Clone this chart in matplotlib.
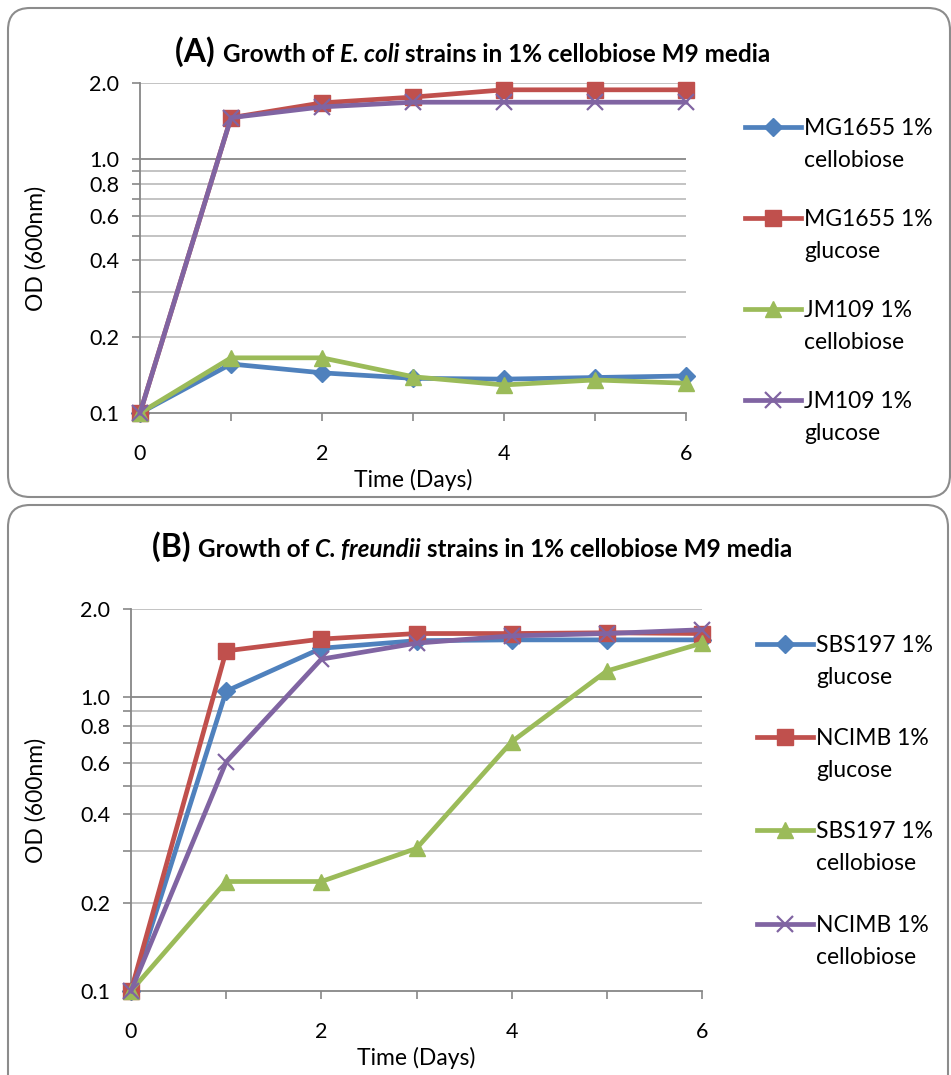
import matplotlib
matplotlib.use('Agg')
import matplotlib.pyplot as plt
from matplotlib.patches import FancyBboxPatch
from matplotlib.transforms import IdentityTransform
from matplotlib.ticker import FixedLocator, NullLocator

plt.rcParams['font.family'] = ['Lato', 'DejaVu Sans']

days = [0, 1, 2, 3, 4, 5, 6]

# panel A - E. coli
mg1655_cello = [0.100, 0.156, 0.144, 0.137, 0.136, 0.138, 0.140]
mg1655_gluc = [0.100, 1.46, 1.67, 1.76, 1.88, 1.88, 1.88]
jm109_cello = [0.100, 0.165, 0.165, 0.139, 0.129, 0.135, 0.131]
jm109_gluc = [0.100, 1.46, 1.61, 1.68, 1.68, 1.68, 1.68]
labels_a = [("MG1655 1%", "cellobiose"), ("MG1655 1%", "glucose"),
            ("JM109 1%", "cellobiose"), ("JM109 1%", "glucose")]

# panel B - C. freundii
sbs197_gluc = [0.100, 1.05, 1.47, 1.56, 1.57, 1.57, 1.57]
ncimb_gluc = [0.100, 1.44, 1.58, 1.65, 1.65, 1.66, 1.65]
sbs197_cello = [0.100, 0.236, 0.236, 0.306, 0.706, 1.23, 1.53]
ncimb_cello = [0.100, 0.603, 1.35, 1.53, 1.62, 1.65, 1.70]
labels_b = [("SBS197 1%", "glucose"), ("NCIMB 1%", "glucose"),
            ("SBS197 1%", "cellobiose"), ("NCIMB 1%", "cellobiose")]

grid_vals = [0.1, 0.2, 0.3, 0.4, 0.5, 0.6, 0.7, 0.8, 0.9, 1.0, 2.0]
labelled = [0.1, 0.2, 0.4, 0.6, 0.8, 1.0, 2.0]

colors = ['#4F81BD', '#C0504D', '#9BBB59', '#8064A2']
styles = [dict(marker='D', ms=9), dict(marker='s', ms=11),
          dict(marker='^', ms=12), dict(marker='x', ms=11, mew=1.6)]

W, H = 951, 1075
fig = plt.figure(figsize=(W / 100, H / 100), dpi=100)

# rounded panel frames (pixel coords)
for (x0, y0, w, h) in [(8, H - 497, 942, 489), (8, -30, 940, H - 505 + 30)]:
    fig.patches.append(FancyBboxPatch((x0, y0), w, h, boxstyle='round,pad=0,rounding_size=22',
                                      transform=IdentityTransform(), fc='none',
                                      ec='#8C8C8C', lw=1.5))


def px(x0, y0, x1, y1):
    return [x0 / W, 1 - y1 / H, (x1 - x0) / W, (y1 - y0) / H]


def setup(ax, x0, x1):
    ax.set_yscale('log')
    ax.set_ylim(0.1, 2.0)
    ax.set_xlim(0, 6)
    ax.yaxis.set_major_locator(FixedLocator(grid_vals))
    ax.yaxis.set_minor_locator(NullLocator())
    ax.set_yticklabels(['%.1f' % v if v in labelled else '' for v in grid_vals])
    ax.set_xticks(days)
    ax.set_xticklabels([str(d) if d % 2 == 0 else '' for d in days])
    for v in grid_vals[1:]:
        ax.axhline(v, color='#878787' if v == 1.0 else '#BEBEBE', lw=1.3, zorder=0)
    for s in ['top', 'right']:
        ax.spines[s].set_visible(False)
    for s in ['left', 'bottom']:
        ax.spines[s].set_color('#878787')
        ax.spines[s].set_linewidth(1.3)
    ax.tick_params(axis='both', direction='out', length=6, width=1.2, color='#878787',
                   labelsize=15.5)
    ax.tick_params(axis='x', pad=16)
    ax.tick_params(axis='y', pad=9)
    ax.set_xlabel('Time (Days)', fontsize=16.5, labelpad=4)
    ax.set_ylabel('OD (600nm)', fontsize=16.5)
    ax.yaxis.set_label_coords((47 - x0) / (x1 - x0), 0.5)


def legend(ax, lines, labels, x, y, spacing, gap):
    leg = ax.legend(lines, [l[0] for l in labels], loc='upper left',
                    bbox_to_anchor=(x / W, 1 - y / H), bbox_transform=fig.transFigure,
                    frameon=False, fontsize=16.5, handlelength=2.45, handletextpad=0.12,
                    borderpad=0, borderaxespad=0, labelspacing=spacing)
    for t, l in zip(leg.get_texts(), labels):
        ax.annotate(l[1], xy=(0, 0.5), xycoords=t, xytext=(0, -gap),
                    textcoords='offset pixels', va='center', ha='left',
                    fontsize=16.5, zorder=7)


def rich_title(pieces, xc, y):
    r = fig.canvas.get_renderer()
    texts = [fig.text(0, 1 - y / H, s, va='baseline', ha='left', **kw) for s, kw in pieces]
    widths = [t.get_window_extent(r).width for t in texts]
    x = xc - sum(widths) / 2
    for t, w in zip(texts, widths):
        t.set_x(x / W)
        x += w


series_a = [mg1655_cello, mg1655_gluc, jm109_cello, jm109_gluc]
series_b = [sbs197_gluc, ncimb_gluc, sbs197_cello, ncimb_cello]

ax1 = fig.add_axes(px(140, 83, 686, 413))
lines = []
for vals, c, st in zip(series_a, colors, styles):
    ln, = ax1.plot(days, vals, color=c, lw=3.4, clip_on=False, zorder=3, **st)
    lines.append(ln)
setup(ax1, 140, 686)
legend(ax1, lines, labels_a, 745, 118, 3.05, 32)

ax2 = fig.add_axes(px(131, 609, 702, 991))
lines = []
for vals, c, st in zip(series_b, colors, styles):
    ln, = ax2.plot(days, vals, color=c, lw=3.4, clip_on=False, zorder=3, **st)
    lines.append(ln)
setup(ax2, 131, 702)
legend(ax2, lines, labels_b, 757, 635, 3.15, 32)

bold = dict(fontsize=17.5, fontweight='bold')
bold_it = dict(fontsize=17.5, fontweight='bold', style='italic')
big = dict(fontsize=23, fontweight='bold')
rich_title([('(A) ', big), ('Growth of ', bold), ('E. coli', bold_it),
            (' strains in 1% cellobiose M9 media', bold)], 473, 62)
rich_title([('(B) ', big), ('Growth of ', bold), ('C. freundii', bold_it),
            (' strains in 1% cellobiose M9 media', bold)], 472, 557)

fig.savefig('out.png', dpi=100)
